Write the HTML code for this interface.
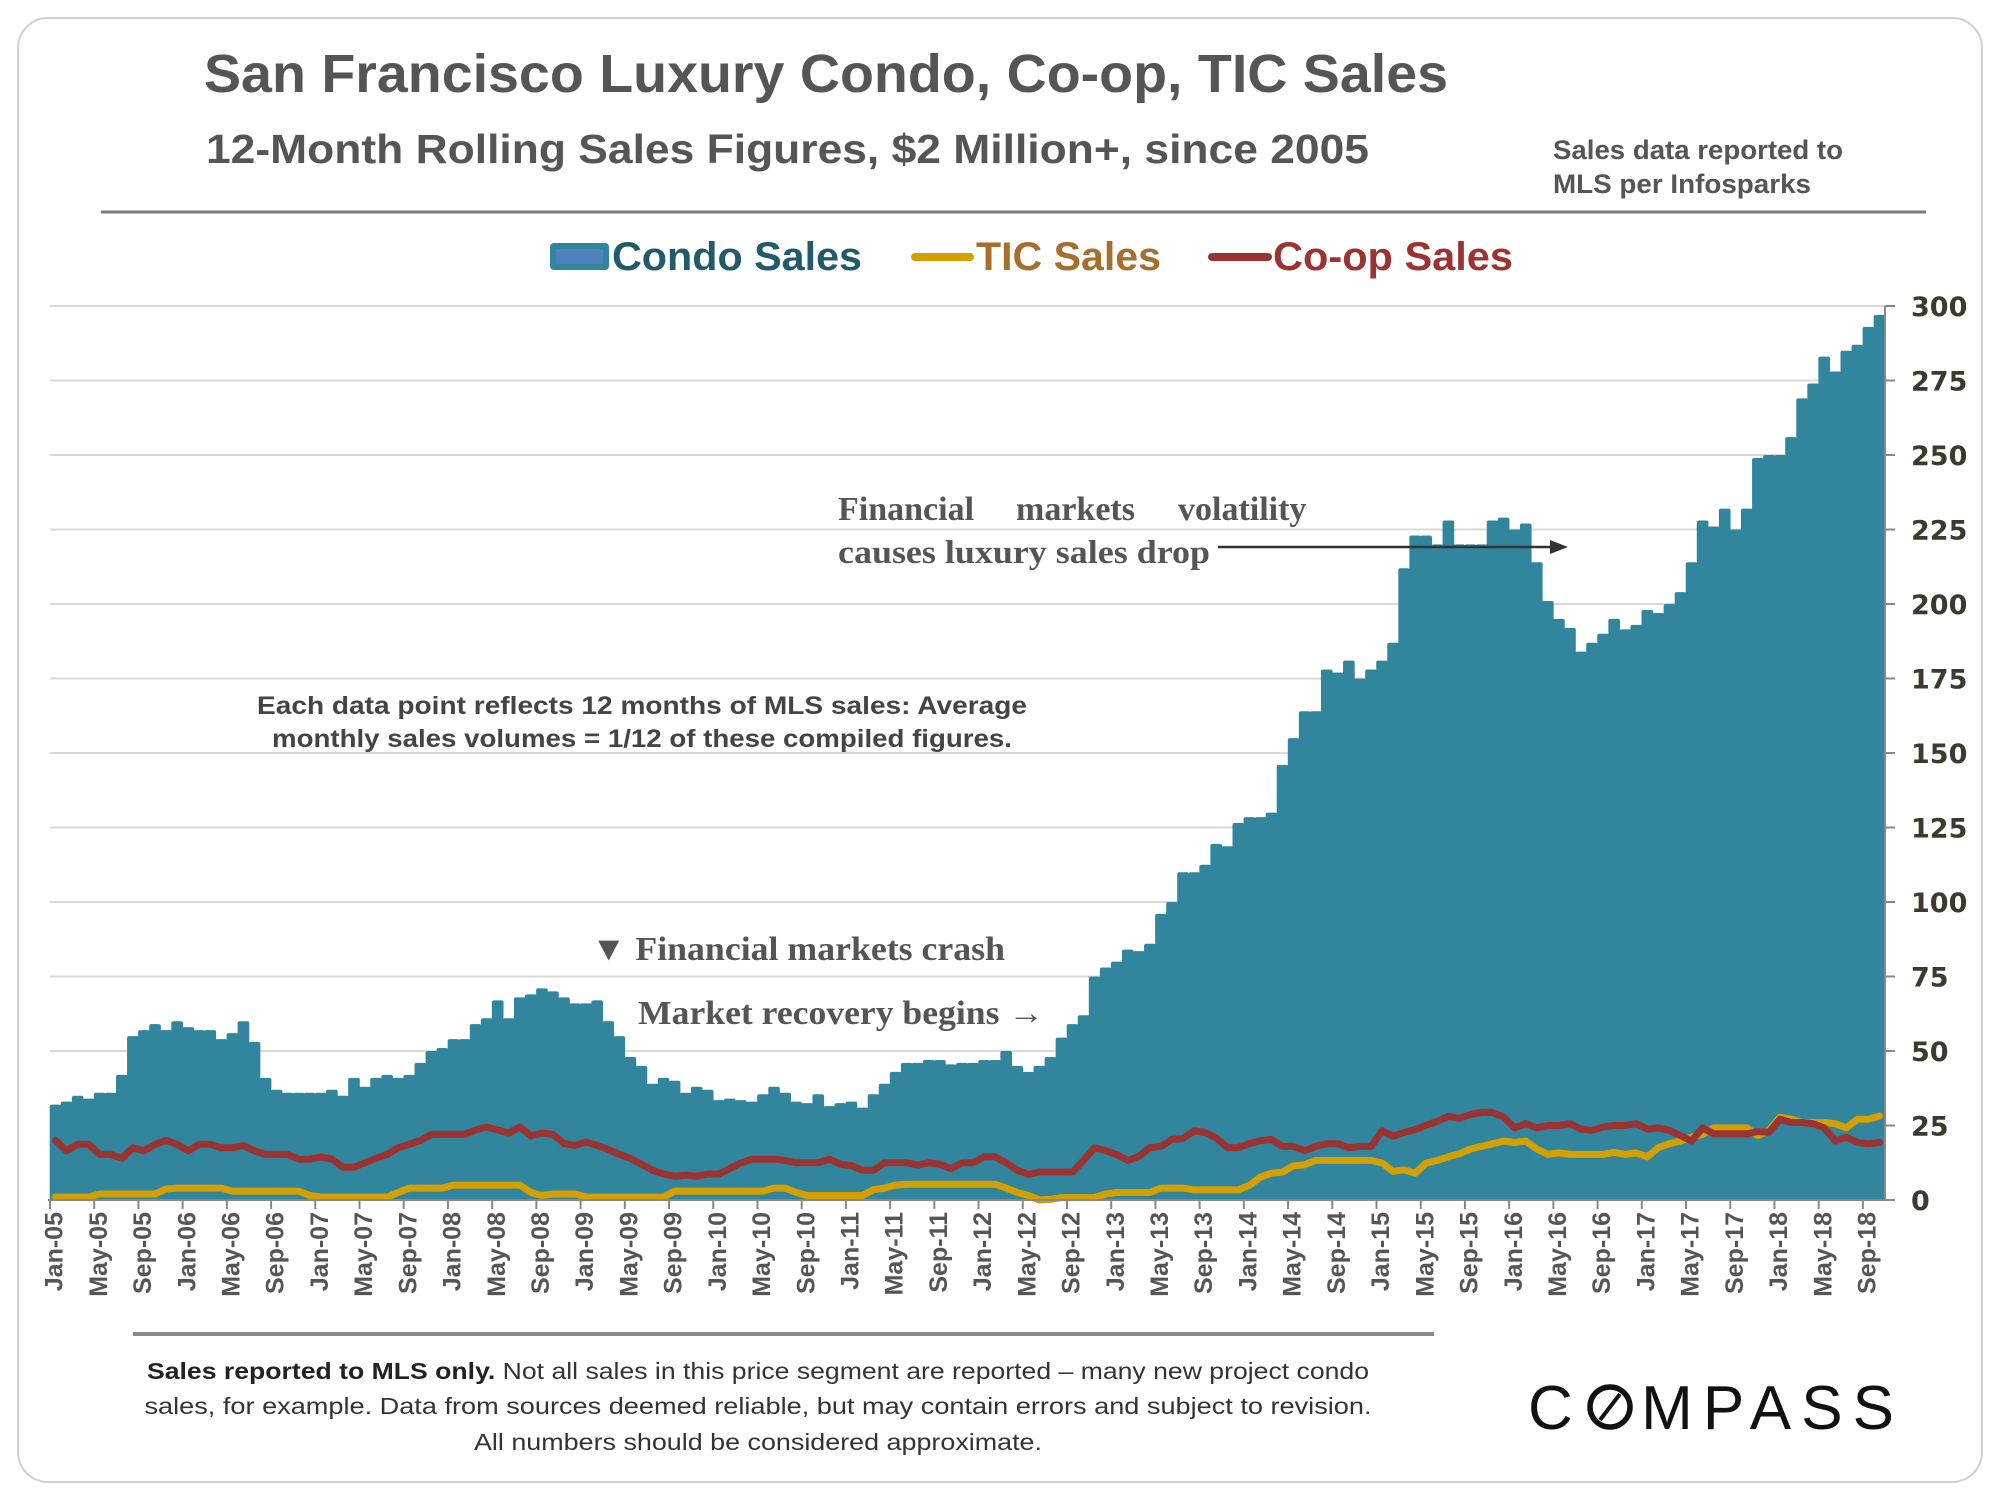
<!DOCTYPE html>
<html><head><meta charset="utf-8"><style>
html,body{margin:0;padding:0;background:#fff;}
svg{display:block;}
</style></head><body>
<svg id="chart" width="2000" height="1500" viewBox="0 0 2000 1500" xmlns="http://www.w3.org/2000/svg">
<rect x="18" y="18" width="1964" height="1464" rx="30" fill="#fff" stroke="#d0d0d0" stroke-width="2"/>
<text x="204" y="92" font-family="Liberation Sans, sans-serif" font-weight="bold" font-size="54" fill="#555" textLength="1244" lengthAdjust="spacingAndGlyphs">San Francisco Luxury Condo, Co-op, TIC Sales</text>
<text x="206" y="163" font-family="Liberation Sans, sans-serif" font-weight="bold" font-size="41" fill="#555" textLength="1163" lengthAdjust="spacingAndGlyphs">12-Month Rolling Sales Figures, $2 Million+, since 2005</text>
<text x="1553" y="159" font-family="Liberation Sans, sans-serif" font-weight="bold" font-size="27" fill="#555" textLength="290" lengthAdjust="spacingAndGlyphs">Sales data reported to</text>
<text x="1553" y="193" font-family="Liberation Sans, sans-serif" font-weight="bold" font-size="27" fill="#555" textLength="258" lengthAdjust="spacingAndGlyphs">MLS per Infosparks</text>
<line x1="101" y1="212" x2="1926" y2="212" stroke="#7a7a7a" stroke-width="3"/>

<g>
<rect x="550" y="243" width="59" height="27" rx="4" fill="#31859c"/>
<rect x="556" y="249" width="47" height="15" fill="#4f81bd"/>
<text x="612" y="270" font-family="Liberation Sans, sans-serif" font-weight="bold" font-size="40" fill="#1f5b6b" textLength="250" lengthAdjust="spacingAndGlyphs">Condo Sales</text>
<line x1="915" y1="257" x2="970" y2="257" stroke="#d4a000" stroke-width="8" stroke-linecap="round"/>
<text x="976" y="270" font-family="Liberation Sans, sans-serif" font-weight="bold" font-size="40" fill="#a66f2d" textLength="185" lengthAdjust="spacingAndGlyphs">TIC Sales</text>
<line x1="1212" y1="257" x2="1268" y2="257" stroke="#9b3333" stroke-width="8" stroke-linecap="round"/>
<text x="1273" y="270" font-family="Liberation Sans, sans-serif" font-weight="bold" font-size="40" fill="#9b3333" textLength="240" lengthAdjust="spacingAndGlyphs">Co-op Sales</text>
</g>

<g id="grid"></g>
<g id="bars"></g>
<g id="lines"></g>
<g id="axes"></g>

<g>
<g font-family="Liberation Serif, serif" font-weight="bold" font-size="34" fill="#555">
<text x="838" y="520">Financial</text>
<text x="1016" y="520">markets</text>
<text x="1178" y="520">volatility</text>
</g>
<text x="838" y="563" font-family="Liberation Serif, serif" font-weight="bold" font-size="33" fill="#555" textLength="372" lengthAdjust="spacingAndGlyphs">causes luxury sales drop</text>
<line x1="1218" y1="547" x2="1552" y2="547" stroke="#333" stroke-width="2.5"/>
<polygon points="1568,547 1550,540 1550,554" fill="#333"/>
<text x="642" y="714" text-anchor="middle" font-family="Liberation Sans, sans-serif" font-weight="bold" font-size="25" fill="#444" textLength="770" lengthAdjust="spacingAndGlyphs">Each data point reflects 12 months of MLS sales:  Average</text>
<text x="642" y="747" text-anchor="middle" font-family="Liberation Sans, sans-serif" font-weight="bold" font-size="25" fill="#444" textLength="740" lengthAdjust="spacingAndGlyphs">monthly sales volumes = 1/12 of these compiled figures.</text>
<text x="591" y="960" font-family="Liberation Serif, serif" font-weight="bold" font-size="34" fill="#555" textLength="414" lengthAdjust="spacingAndGlyphs">▼ Financial markets crash</text>
<text x="638" y="1024" font-family="Liberation Serif, serif" font-weight="bold" font-size="34" fill="#555" textLength="406" lengthAdjust="spacingAndGlyphs">Market recovery begins →</text>
</g>

<line x1="133" y1="1334" x2="1434" y2="1334" stroke="#8a8a8a" stroke-width="4"/>
<g font-family="Liberation Sans, sans-serif" font-size="23" fill="#333" text-anchor="middle">
<text x="758" y="1379" textLength="1222" lengthAdjust="spacingAndGlyphs"><tspan font-weight="bold" fill="#222">Sales reported to MLS only.</tspan> Not all sales in this price segment are reported – many new project condo</text>
<text x="758" y="1414" textLength="1227" lengthAdjust="spacingAndGlyphs">sales, for example. Data from sources deemed reliable, but may contain errors and subject to revision.</text>
<text x="758" y="1450" textLength="568" lengthAdjust="spacingAndGlyphs">All numbers should be considered approximate.</text>
</g>
<g>
<text x="1528" y="1429" font-family="Liberation Sans, sans-serif" font-size="62" fill="#111" textLength="366" lengthAdjust="spacing">C<tspan fill="#fff">O</tspan>MPASS</text>
<circle cx="1610" cy="1407" r="20" fill="none" stroke="#111" stroke-width="5.5"/>
<line x1="1600" y1="1420" x2="1620" y2="1394" stroke="#111" stroke-width="4"/>
</g>
</svg>
<script>
const condoSales = [32,33,35,34,36,36,42,55,57,59,57,60,
58,57,57,54,56,60,53,41,37,36,36,36,
36,37,35,41,38,41,42,41,42,46,50,51,
54,54,59,61,67,61,68,69,71,70,68,66,
66,67,60,55,48,45,39,41,40,36,38,37,
33.5,34,33.5,33,35.5,38,36,33,32.5,35.5,31.5,32.5,
33,31,35.5,39,43,46,46,47,47,45.5,46,46,
47,47,50,45,43,45,48,54.5,59,62,75,78,
80,84,83.5,86,96,100,110,110,112.5,119.5,118.7,126.5,
128.5,128.5,130,146,155,164,164,178,177,181,175,178,
181,187,212,223,223,220,228,220,220,220,228,229,
225,227,214,201,195,192,184,187,190,195,191.5,193,
198,197,200,204,214,228,226,232,225,232,249,250,
250,256,269,274,283,278,285,287,293,297];
const coopSales = [20,16.5,18.7,18.7,15.3,15.3,14,17.5,16.5,18.7,20,18.7,
16.5,18.7,18.7,17.5,17.5,18.3,16.5,15.3,15.3,15.3,13.7,13.7,
14.5,13.7,11,11,12.5,14,15.3,17.5,18.7,20,22,22,
22,22,23.5,24.5,23.5,22.5,24.5,21.5,22.5,22,19,18.3,
19.5,18.3,17,15.3,14,12,10,8.7,8,8.3,8,8.7,
8.7,10.5,12.5,13.7,13.7,13.7,13.3,12.5,12.5,12.5,13.7,12,
11.5,10,10,12.5,12.5,12.5,11.7,12.5,12,10.5,12.5,12.5,
14.5,14.5,12.5,10,8.6,9.4,9.4,9.4,9.4,13.3,17.6,16.5,
15.2,13.3,14.6,17.6,18,20.3,20.6,23.2,22.7,20.8,17.6,17.6,
18.9,19.9,20.3,18,18,16.5,18,18.9,18.9,17.6,18,18,
23.2,21.4,22.7,23.6,25.1,26.4,28.1,27.4,28.7,29.4,29.4,27.8,
24.2,25.6,24.2,25,25,25.6,23.8,23.4,24.5,25,25,25.6,
23.8,24.2,23.4,21.6,19.8,24.2,22.2,22.2,22.2,22.2,23,22.7,
27.1,26,26,25.6,24.2,19.8,21.1,19.3,18.9,19.3];
const ticSales = [1,1,1,1,2,2,2,2,2,2,3.7,4,
4,4,4,4,3,3,3,3,3,3,3,1.5,
1,1,1,1,1,1,1,2.5,4,4,4,4,
5,5,5,5,5,5,5,2.5,1.5,2,2,2,
1,1,1,1,1,1,1,1,3,3,3,3,
3,3,3,3,3,4,4,2.5,1.5,1.5,1.5,1.5,
1.5,1.5,3.5,4,5,5.3,5.3,5.3,5.3,5.3,5.3,5.3,
5.3,5.3,4,2.5,1.5,0,0.2,0.8,0.8,0.8,0.8,2,
2.5,2.5,2.5,2.5,4,4,4,3.4,3.4,3.4,3.4,3.4,
4.9,7.7,9,9.4,11.5,11.8,13.3,13.3,13.3,13.3,13.3,13.3,
12.4,9.6,10.1,9,12.4,13.3,14.5,15.5,17.1,18,18.9,19.8,
19.3,19.8,17.1,15.3,15.8,15.3,15.3,15.3,15.3,16,15.3,15.8,
14.5,17.6,18.9,19.8,21.1,22,24.2,24.2,24.2,24.2,21.6,23.4,
27.8,27.1,26,26,26,25.6,24.2,27.1,27.1,28.2];
const monthNames = ["Jan","Feb","Mar","Apr","May","Jun","Jul","Aug","Sep","Oct","Nov","Dec"];
const startYear = 2005;
const yTicks = [0,25,50,75,100,125,150,175,200,225,250,275,300];

const NS = "http://www.w3.org/2000/svg";
const X0 = 50, X1 = 1885, Y0 = 1200, Y1 = 306, YMAX = 300;
const n = condoSales.length;
const bw = (X1 - X0) / n;
function xPos(i){ return X0 + i * bw; }
function yPos(v){ return Y0 - (v / YMAX) * (Y0 - Y1); }
function mk(tag, attrs){ const e = document.createElementNS(NS, tag); for (const k in attrs) e.setAttribute(k, attrs[k]); return e; }

const grid = document.getElementById('grid');
const axes = document.getElementById('axes');
yTicks.forEach(t => {
  const y = yPos(t);
  if (t > 0) {
    const gl = mk('line', {x1: X0, y1: y, x2: X1, y2: y, stroke: '#d9d9d9', 'stroke-width': 2});
    
    
    grid.appendChild(gl);
  }
  const tk = mk('line', {x1: X1, y1: y, x2: X1 + 10, y2: y, stroke: '#888', 'stroke-width': 2});
  
  
  axes.appendChild(tk);
  const lb = mk('text', {x: 1911, y: y + 10, 'font-family': 'DejaVu Sans, Liberation Sans, sans-serif', 'font-weight': 'bold', 'font-size': 27, fill: '#3b3a2c'});
  lb.textContent = String(t);
  
  
  axes.appendChild(lb);
});

const bars = document.getElementById('bars');
condoSales.forEach((v, i) => {
  const y = yPos(v);
  const r = mk('rect', {x: xPos(i) - 0.3, y: y, width: bw + 0.6, height: Y0 - y, fill: '#31859c', rx: 2});
  
  
  bars.appendChild(r);
});

const lines = document.getElementById('lines');
function drawLine(arr, color, name){
  const pts = arr.map((v, i) => (xPos(i) + bw / 2).toFixed(1) + ',' + yPos(v).toFixed(1)).join(' ');
  const pl = mk('polyline', {points: pts, fill: 'none', stroke: color, 'stroke-width': 7, 'stroke-linejoin': 'round', 'stroke-linecap': 'round'});
  
  
  lines.appendChild(pl);
}
drawLine(ticSales, '#d4a000', 'tic-sales-line');
drawLine(coopSales, '#9b3333', 'coop-sales-line');

const base = mk('line', {x1: X0 - 2, y1: Y0, x2: X1, y2: Y0, stroke: '#888', 'stroke-width': 2});


axes.appendChild(base);
const vax = mk('line', {x1: X1, y1: Y1, x2: X1, y2: Y0, stroke: '#888', 'stroke-width': 2});


axes.appendChild(vax);

for (let i = 0; i < n; i += 4) {
  const x = xPos(i);
  const tk = mk('line', {x1: x, y1: Y0, x2: x, y2: Y0 + 9, stroke: '#888', 'stroke-width': 2});
  
  
  axes.appendChild(tk);
  const yr = startYear + Math.floor(i / 12);
  const label = monthNames[i % 12] + '-' + String(yr % 100).padStart(2, '0');
  const tx = x + 6, ty = Y0 + 12;
  const t = mk('text', {x: tx, y: ty, transform: 'rotate(-90 ' + tx + ' ' + ty + ')', 'text-anchor': 'end', 'font-family': 'Liberation Sans, sans-serif', 'font-weight': 'bold', 'font-size': 25, fill: '#555', 'dominant-baseline': 'middle'});
  t.textContent = label;
  
  
  axes.appendChild(t);
}
</script>
</body></html>
